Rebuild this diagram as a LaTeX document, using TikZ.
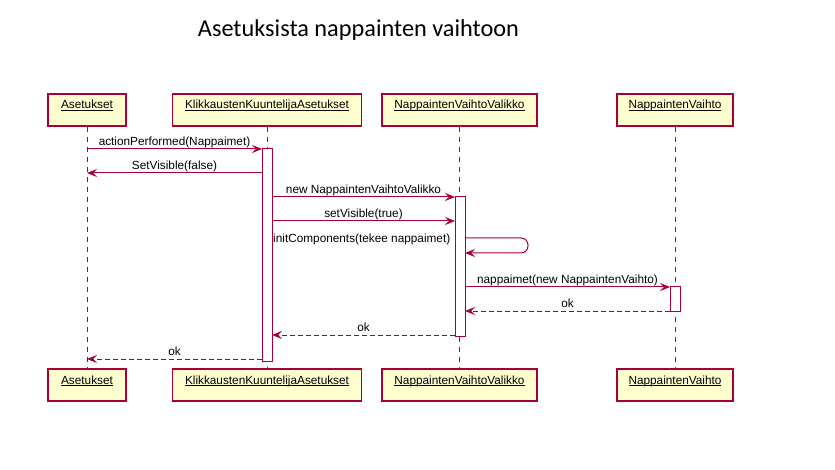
\documentclass[tikz,border=0pt]{standalone}
\usepackage{fontspec}
\setmainfont{Liberation Sans}
\newfontfamily\titlefont{Carlito}
\usetikzlibrary{arrows.meta}
\definecolor{uml}{HTML}{A80036}
\definecolor{ufill}{HTML}{FEFECE}
\newcommand\umlpname[1]{\underline{\smash{#1}}}
\begin{document}
\begin{tikzpicture}[x=1pt,y=-1pt,
  part/.style={draw=uml, fill=ufill, line width=1.2pt, minimum height=32pt, inner sep=0pt, font=\fontsize{11.8}{14}\selectfont},
  act/.style={draw=uml, fill=white, line width=1pt, minimum width=10pt, inner sep=0pt},
  life/.style={draw=uml, line width=1pt, dash pattern=on 5pt off 5pt},
  msg/.style={draw=uml, line width=1pt, -{Stealth[length=10pt,width=8pt,inset=4pt]}},
  ret/.style={msg, dash pattern=on 5pt off 3pt},
  lab/.style={anchor=base, inner sep=0pt, font=\fontsize{11.8}{14}\selectfont}
]
\useasboundingbox (0,0) rectangle (835,470);
\node[anchor=base, inner sep=0pt, font=\titlefont\fontsize{24.3}{28}\selectfont] (title) at (358.5,36.7) {Asetuksista nappainten vaihtoon};

% participants
\node[part, minimum width=78pt] (pA) at (87,110) {\umlpname{Asetukset}};
\node[part, minimum width=189pt] (pK) at (267,110) {\umlpname{KlikkaustenKuuntelijaAsetukset}};
\node[part, minimum width=155pt] (pV) at (459.5,110) {\umlpname{NappaintenVaihtoValikko}};
\node[part, minimum width=116pt] (pN) at (675,110) {\umlpname{NappaintenVaihto}};
\node[part, minimum width=78pt] (bA) at (87,385) {\umlpname{Asetukset}};
\node[part, minimum width=189pt] (bK) at (267,385) {\umlpname{KlikkaustenKuuntelijaAsetukset}};
\node[part, minimum width=155pt] (bV) at (459.5,385) {\umlpname{NappaintenVaihtoValikko}};
\node[part, minimum width=116pt] (bN) at (675,385) {\umlpname{NappaintenVaihto}};

% lifelines
\draw[life] (pA.south) -- (bA.north);
\draw[life] (pK.south) -- (bK.north);
\draw[life] (pV.south) -- (bV.north);
\draw[life] (pN.south) -- (bN.north);

% activations
\node[act, minimum height=212pt] (aK) at (267,255) {};
\node[act, minimum height=139pt] (aV) at (460,266.5) {};
\node[act, minimum height=24pt] (aN) at (675,299) {};

% message end points
\coordinate (m1a) at (87,149);   \coordinate (m1b) at (262,149);
\coordinate (m2a) at (262,173);  \coordinate (m2b) at (87,173);
\coordinate (m3a) at (272,197);  \coordinate (m3b) at (455,197);
\coordinate (m4a) at (272,221);  \coordinate (m4b) at (455,221);
\coordinate (l1) at (465,238);   \coordinate (l2) at (528,238);
\coordinate (l3) at (528,253);   \coordinate (l4) at (465,253);
\coordinate (m6a) at (465,287);  \coordinate (m6b) at (670,287);
\coordinate (m7a) at (670,311);  \coordinate (m7b) at (465,311);
\coordinate (m8a) at (455,335);  \coordinate (m8b) at (272,335);
\coordinate (m9a) at (262,359);  \coordinate (m9b) at (87,359);

\draw[msg] (m1a) -- (m1b);
\draw[msg] (m2a) -- (m2b);
\draw[msg] (m3a) -- (m3b);
\draw[msg] (m4a) -- (m4b);
\draw[msg, rounded corners=7pt] (l1) -- (l2) -- (l3) -- (l4);
\draw[msg] (m6a) -- (m6b);
\draw[ret] (m7a) -- (m7b);
\draw[ret] (m8a) -- (m8b);
\draw[ret] (m9a) -- (m9b);

% labels
\node[lab] (t1) at (174.5,145.5) {actionPerformed(Nappaimet)};
\node[lab] (t2) at (174.5,169.5) {SetVisible(false)};
\node[lab] (t3) at (363.5,193.5) {new NappaintenVaihtoValikko};
\node[lab] (t4) at (363.5,217.5) {setVisible(true)};
\node[lab, anchor=base west] (t5) at (273,243) {initComponents(tekee nappaimet)};
\node[lab] (t6) at (567.5,283.5) {nappaimet(new NappaintenVaihto)};
\node[lab] (t7) at (567.5,307.5) {ok};
\node[lab] (t8) at (363.5,331.5) {ok};
\node[lab] (t9) at (174.5,355.5) {ok};
\end{tikzpicture}
\end{document}
